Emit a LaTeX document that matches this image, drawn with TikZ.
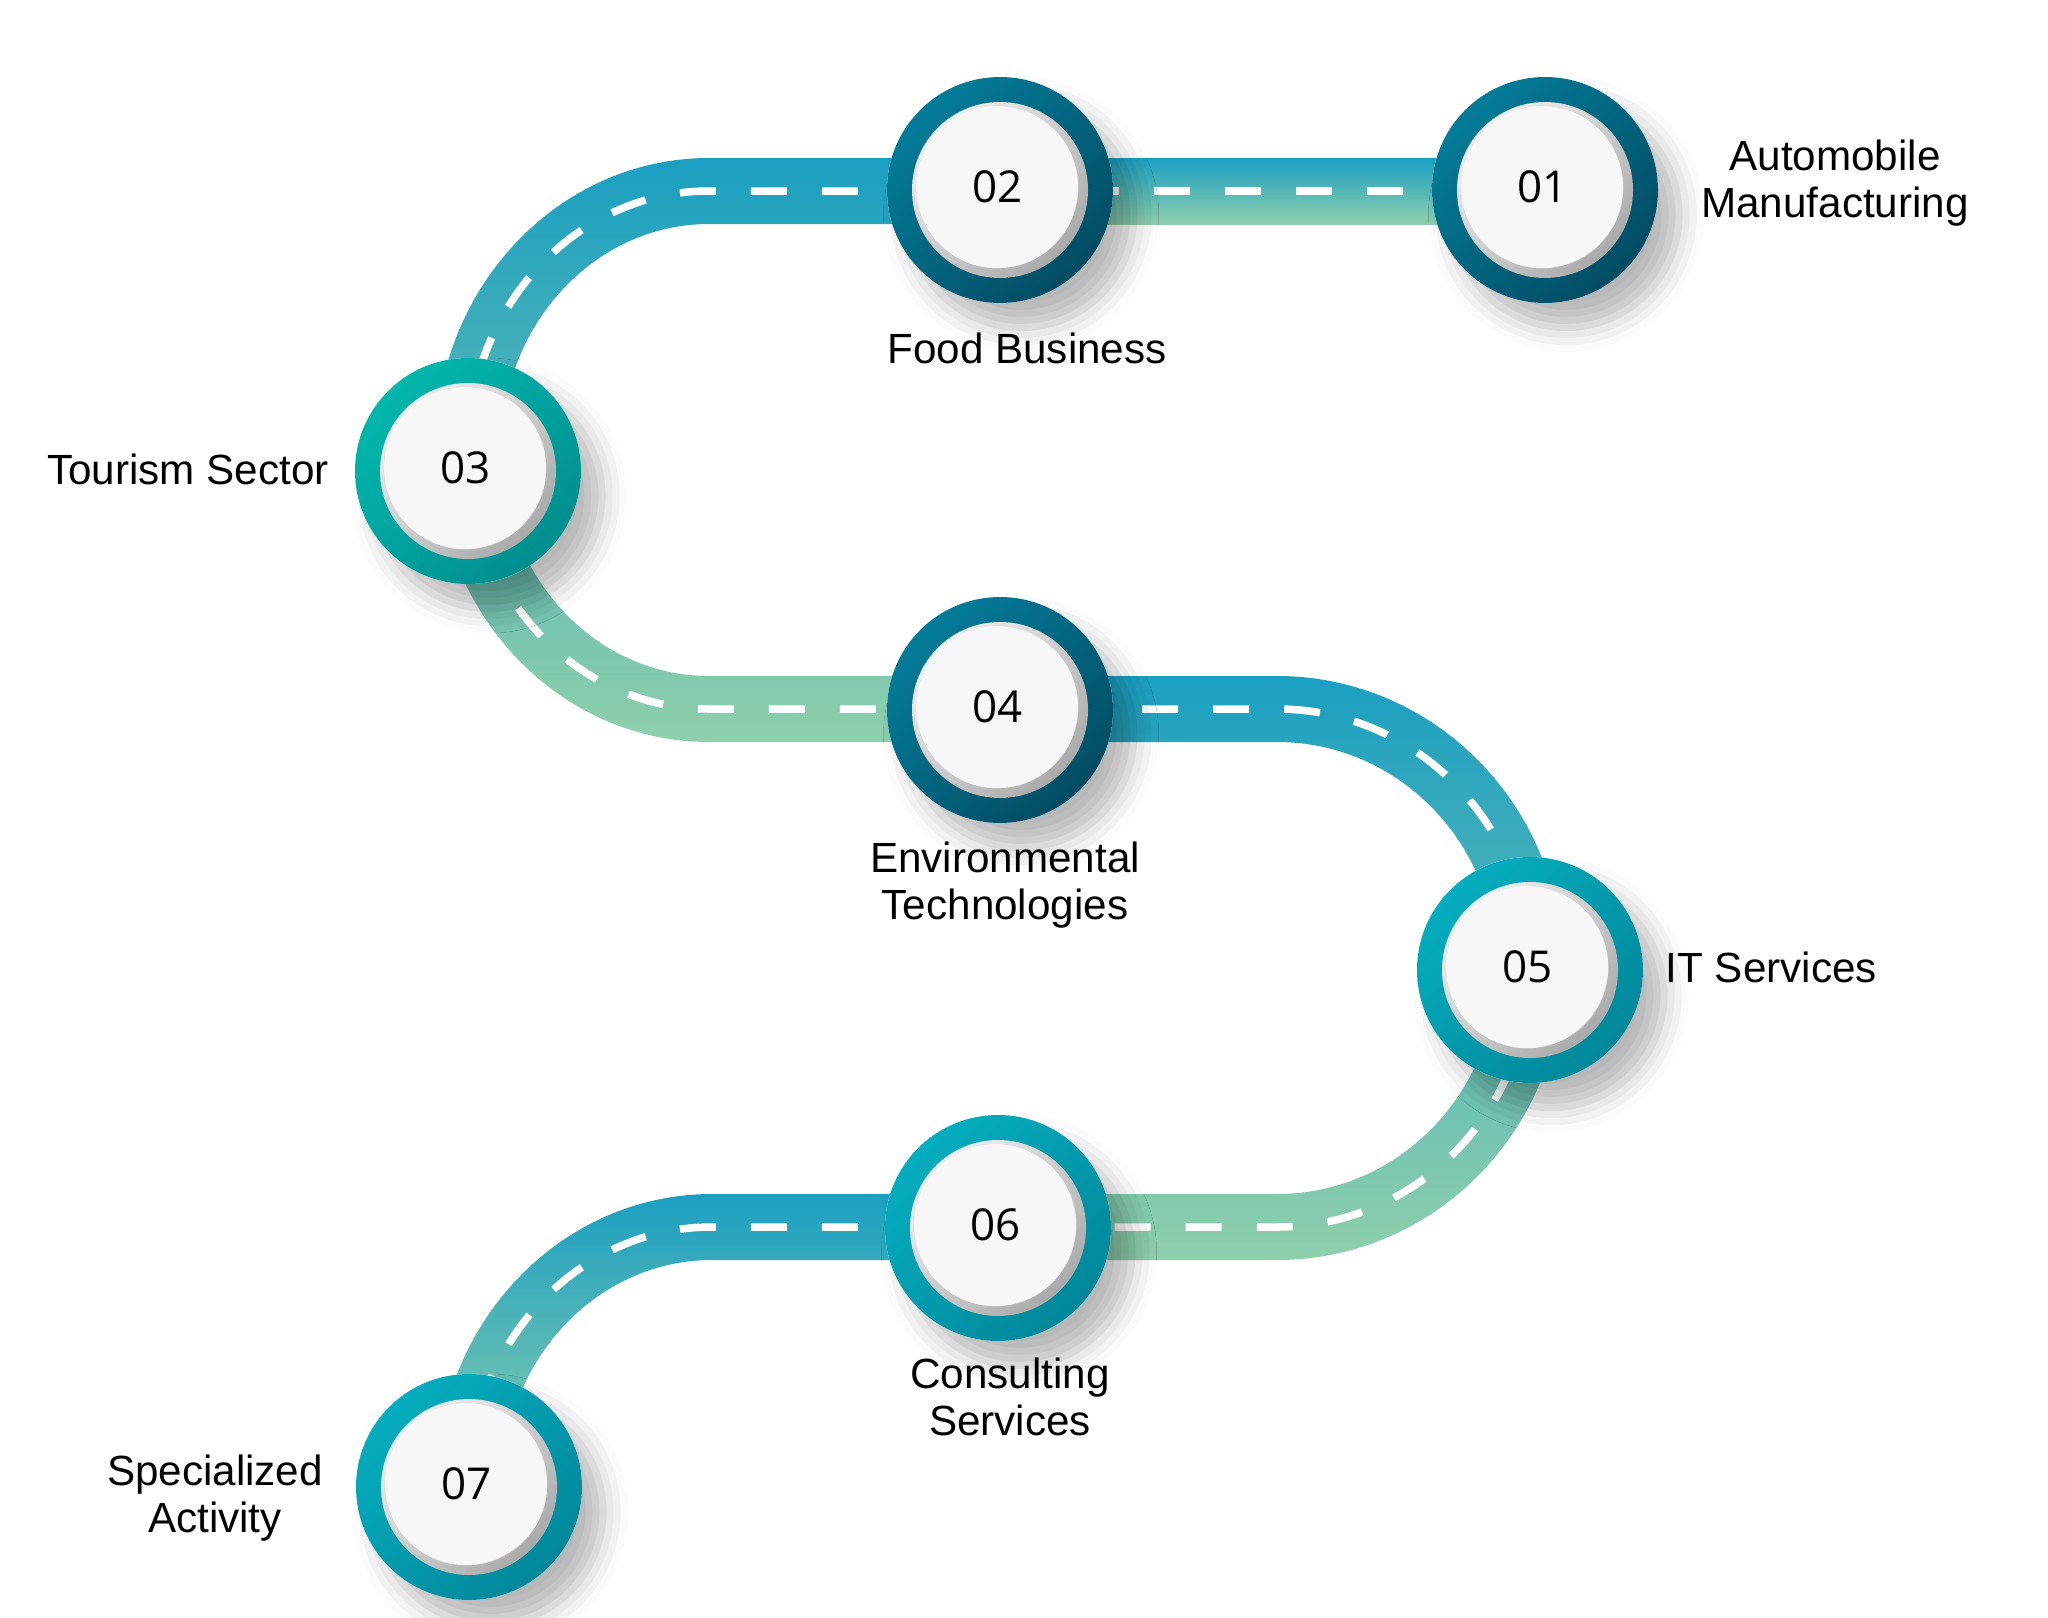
\documentclass[tikz,border=0pt]{standalone}
\usepackage{fontspec}
\setmainfont{Liberation Sans}
\newfontfamily\numfont{Open Sans}
\usetikzlibrary{shadows.blur}

\definecolor{roadblue}{HTML}{1B9FC1}
\definecolor{roadgreen}{HTML}{8FCFAC}
\definecolor{navytop}{HTML}{047C99}
\definecolor{navybot}{HTML}{024C63}
\definecolor{mintop}{HTML}{02B7AD}
\definecolor{minbot}{HTML}{018E8E}
\definecolor{cyantop}{HTML}{05ADBE}
\definecolor{cyanbot}{HTML}{02879A}
\definecolor{rimtop}{HTML}{EEEEEE}
\definecolor{rimbot}{HTML}{AAAAAA}
\definecolor{discwhite}{HTML}{F7F7F7}

% #1 name, #2 centre, #3/#4 ring colours, #5 number
\newcommand{\milestone}[5]{%
  \fill[white, blur shadow={shadow xshift=6pt, shadow yshift=-7pt, shadow blur radius=7pt, shadow opacity=28}] (#2) circle[radius=113];
  \shade[top color=#3, bottom color=#4, shading angle=45] (#2) circle[radius=113];
  \shade[top color=rimtop, bottom color=rimbot, shading angle=45] (#2) circle[radius=88];
  \node[disc, xshift=-0.8pt, yshift=0.8pt] (#1) at (#2) {#5};
}

\begin{document}
\begin{tikzpicture}[x=0.01cm, y=-0.01cm,
  sectorname/.style={font=\fontsize{12}{13.3}\selectfont, align=center, inner sep=0pt},
  disc/.style={circle, fill=discwhite, minimum size=1.62cm, inner sep=0pt, font=\numfont\fontsize{12.5}{15}\selectfont},
  lane/.style={white, line width=0.075cm, dash pattern=on 3.6mm off 3.5mm}]
\useasboundingbox (0,0) rectangle (2048,1618);

% road
\shade[top color=roadblue, bottom color=roadgreen] (1000,158) rectangle (1545,224);
\shade[top color=roadblue, bottom color=roadgreen] (1000,158) -- (709,158) arc[start angle=270, end angle=90, x radius=274, y radius=292] -- (1000,742) -- (1000,676) -- (709,676) arc[start angle=90, end angle=270, x radius=208, y radius=226] -- (1000,224) -- cycle;
\shade[top color=roadblue, bottom color=roadgreen] (1000,676) -- (1277,676) arc[start angle=270, end angle=450, x radius=286, y radius=292] -- (1000,1260) -- (1000,1194) -- (1277,1194) arc[start angle=90, end angle=-90, x radius=220, y radius=226] -- (1000,742) -- cycle;
\shade[top color=roadblue, bottom color=roadgreen] (1000,1194) -- (712,1194) arc[start angle=270, end angle=180, x radius=276, y radius=292] -- (502,1486) arc[start angle=180, end angle=270, x radius=210, y radius=226] -- (1000,1260) -- cycle;

\draw[lane, dash phase=5.9mm] (1000,191) -- (1545,191);
\draw[lane] (1000,191) -- (709,191) arc[start angle=270, end angle=90, x radius=241, y radius=259] -- (1000,709);
\draw[lane] (1000,709) -- (1277,709) arc[start angle=270, end angle=450, x radius=253, y radius=259] -- (1000,1227);
\draw[lane] (1000,1227) -- (712,1227) arc[start angle=270, end angle=180, x radius=243, y radius=259];

% stops
\milestone{m1}{1545,190}{navytop}{navybot}{01}
\milestone{m2}{1000,190}{navytop}{navybot}{02}
\milestone{m3}{468,471}{mintop}{minbot}{03}
\milestone{m4}{1000,710}{navytop}{navybot}{04}
\milestone{m5}{1530,970}{cyantop}{cyanbot}{05}
\milestone{m6}{998,1228}{cyantop}{cyanbot}{06}
\milestone{m7}{469,1487}{cyantop}{cyanbot}{07}

% names
\node[sectorname, anchor=base] (n1) at (1835,217) {Automobile\\Manufacturing};
\node[sectorname, anchor=base] (n2) at (1027,363) {Food Business};
\node[sectorname, anchor=base] (n3) at (188,484) {Tourism Sector};
\node[sectorname, anchor=base] (n4) at (1005,919) {Environmental\\Technologies};
\node[sectorname, anchor=base west] (n5) at (1665,982) {IT Services};
\node[sectorname, anchor=base] (n6) at (1010,1435) {Consulting\\Services};
\node[sectorname, anchor=base] (n7) at (215,1532) {Specialized\\Activity};
\end{tikzpicture}
\end{document}
